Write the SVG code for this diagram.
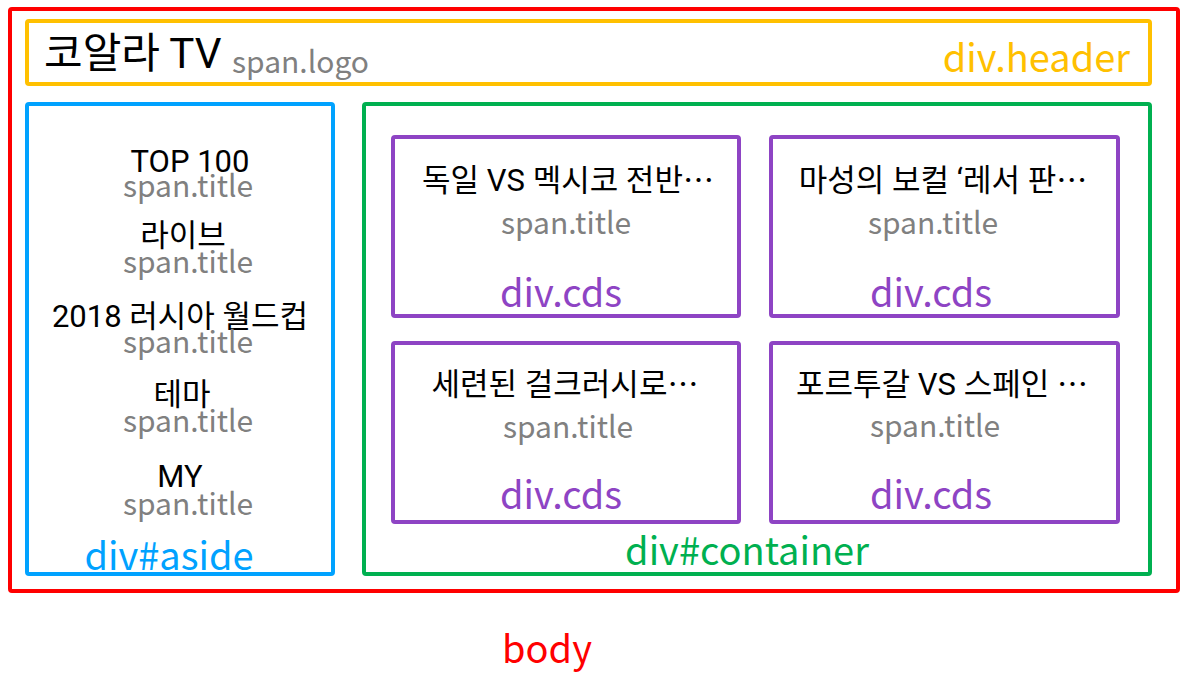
<svg xmlns="http://www.w3.org/2000/svg" width="1191" height="675" viewBox="0 0 1191 675">
<style>
  text { font-family: "Noto Sans CJK KR", "Noto Sans", sans-serif; }
  .box { fill: none; stroke-width: 4; }
  .main { fill: #000; font-size: 31px; text-anchor: middle; font-family: Roboto, "Noto Sans CJK KR", sans-serif; }
  .ell { font-family: "Noto Sans CJK KR", sans-serif; }
  .sub { fill: #808080; font-size: 30px; text-anchor: middle; }
  .lbl { font-size: 38px; }
  .cds { stroke: #8e44c4; }
  .cdsl { fill: #8e44c4; font-size: 38px; text-anchor: middle; }
</style>
<rect width="1191" height="675" fill="#fff"/>
<g id="connectors"/>
<g id="body">
  <rect class="box" x="10" y="9" width="1168" height="582" rx="2" stroke="#ff0000"/>
  <text class="lbl" x="547" y="663" text-anchor="middle" fill="#ff0000">body</text>
</g>
<g id="header">
  <rect class="box" x="27" y="21" width="1123" height="63" rx="2" stroke="#ffc000"/>
  <text x="44" y="68" font-size="42" fill="#000">코알라 <tspan font-family="Roboto, sans-serif">TV</tspan></text>
  <text x="232" y="73" font-size="30" fill="#808080">span.logo</text>
  <text class="lbl" x="1130" y="72" text-anchor="end" fill="#ffc000">div.header</text>
</g>
<g id="aside">
  <rect class="box" x="27" y="104" width="306" height="470" rx="2" stroke="#00a2ff"/>
  <text class="main" x="190" y="172">TOP 100</text>
  <text class="sub" x="188" y="197">span.title</text>
  <text class="main" x="183" y="246">라이브</text>
  <text class="sub" x="188" y="273">span.title</text>
  <text class="main" x="180" y="327">2018 러시아 월드컵</text>
  <text class="sub" x="188" y="353">span.title</text>
  <text class="main" x="182" y="405">테마</text>
  <text class="sub" x="188" y="432">span.title</text>
  <text class="main" x="180" y="487">MY</text>
  <text class="sub" x="188" y="515">span.title</text>
  <text class="lbl" x="169" y="570" text-anchor="middle" fill="#00a2ff">div#aside</text>
</g>
<g id="container">
  <rect class="box" x="364" y="104" width="786" height="470" rx="2" stroke="#00b050"/>
  <text class="lbl" x="747" y="565" text-anchor="middle" fill="#00b050">div#container</text>
</g>
<g id="cds1">
  <rect class="box cds" x="393" y="137" width="346" height="179" rx="2"/>
  <text class="main" x="568" y="191">독일 VS 멕시코 전반<tspan class="ell">…</tspan></text>
  <text class="sub" x="566" y="234">span.title</text>
  <text class="cdsl" x="561" y="307">div.cds</text>
</g>
<g id="cds2">
  <rect class="box cds" x="771" y="137" width="347" height="179" rx="2"/>
  <text class="main" x="943" y="191">마성의 보컬 ‘레서 판<tspan class="ell">…</tspan></text>
  <text class="sub" x="933" y="234">span.title</text>
  <text class="cdsl" x="931" y="307">div.cds</text>
</g>
<g id="cds3">
  <rect class="box cds" x="393" y="343" width="346" height="179" rx="2"/>
  <text class="main" x="565" y="395">세련된 걸크러시로<tspan class="ell">…</tspan></text>
  <text class="sub" x="568" y="438">span.title</text>
  <text class="cdsl" x="561" y="509">div.cds</text>
</g>
<g id="cds4">
  <rect class="box cds" x="771" y="343" width="347" height="179" rx="2"/>
  <text class="main" x="942" y="395">포르투갈 VS 스페인 <tspan class="ell">…</tspan></text>
  <text class="sub" x="935" y="437">span.title</text>
  <text class="cdsl" x="931" y="509">div.cds</text>
</g>
</svg>
